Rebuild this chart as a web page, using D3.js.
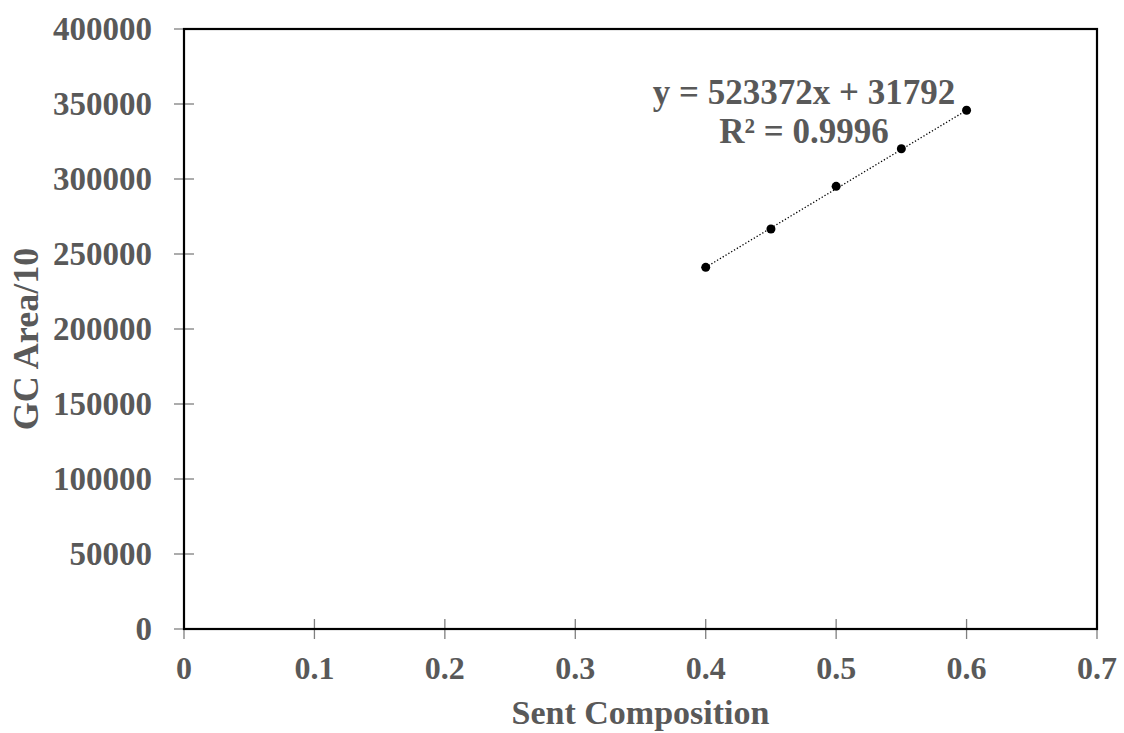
<!DOCTYPE html>
<html>
<head>
<meta charset="utf-8">
<script src="https://cdn.jsdelivr.net/npm/d3@7"></script>
<style>
  body { margin: 0; background: #fff; }
  text { font-family: "Liberation Serif", "Times New Roman", serif; font-weight: bold; fill: #595959; }
</style>
</head>
<body>
<svg width="1124" height="733"></svg>
<script>
// data
var composition = [0.4, 0.45, 0.5, 0.55, 0.6];
var gcArea = [241100, 266700, 295100, 320200, 345800];
var xTicks = [0, 0.1, 0.2, 0.3, 0.4, 0.5, 0.6, 0.7];
var yTicks = [0, 50000, 100000, 150000, 200000, 250000, 300000, 350000, 400000];
var fitSlope = 523372, fitIntercept = 31792;
var fitLabels = ["y = 523372x + 31792", "R\u00b2 = 0.9996"];

var svg = d3.select("svg");
var pLeft = 184, pRight = 1097, pTop = 29, pBottom = 629;

var x = d3.scaleLinear().domain([0, 0.7]).range([pLeft, pRight]);
var y = d3.scaleLinear().domain([0, 400000]).range([pBottom, pTop]);

// tick marks (cross the axis)
svg.append("g").selectAll("line")
    .data(yTicks)
  .enter().append("line")
    .attr("x1", pLeft - 10).attr("x2", pLeft + 10)
    .attr("y1", function(d) { return y(d); })
    .attr("y2", function(d) { return y(d); })
    .attr("stroke", "#7f7f7f").attr("stroke-width", 1.3);
svg.append("g").selectAll("line")
    .data(xTicks)
  .enter().append("line")
    .attr("x1", function(d) { return x(d); })
    .attr("x2", function(d) { return x(d); })
    .attr("y1", pBottom - 10).attr("y2", pBottom + 10)
    .attr("stroke", "#7f7f7f").attr("stroke-width", 1.3);

// frame
svg.append("rect")
    .attr("x", pLeft).attr("y", pTop)
    .attr("width", pRight - pLeft).attr("height", pBottom - pTop)
    .attr("fill", "none").attr("stroke", "#000").attr("stroke-width", 2.2);

// tick labels
svg.append("g").selectAll("text")
    .data(yTicks)
  .enter().append("text")
    .attr("x", pLeft - 32)
    .attr("y", function(d) { return y(d) + 10.5; })
    .attr("text-anchor", "end")
    .style("font-size", "33px")
    .text(function(d) { return d; });
svg.append("g").selectAll("text")
    .data(xTicks)
  .enter().append("text")
    .attr("x", function(d) { return x(d); })
    .attr("y", pBottom + 50)
    .attr("text-anchor", "middle")
    .style("font-size", "32px")
    .text(function(d) { return d; });

// axis titles
svg.append("text")
    .attr("x", (pLeft + pRight) / 2).attr("y", 724)
    .attr("text-anchor", "middle")
    .style("font-size", "34px")
    .text("Sent Composition");
svg.append("text")
    .attr("transform", "translate(38," + 339 + ") rotate(-90)")
    .attr("text-anchor", "middle")
    .style("font-size", "36px")
    .text("GC Area/10");

// trendline
var x0 = d3.min(composition), x1 = d3.max(composition);
svg.append("line")
    .attr("x1", x(x0)).attr("y1", y(fitSlope * x0 + fitIntercept))
    .attr("x2", x(x1)).attr("y2", y(fitSlope * x1 + fitIntercept))
    .attr("stroke", "#000").attr("stroke-width", 1.3)
    .attr("stroke-dasharray", "1.3,2");

// points
svg.append("g").selectAll("circle")
    .data(composition)
  .enter().append("circle")
    .attr("cx", function(d) { return x(d); })
    .attr("cy", function(d, i) { return y(gcArea[i]); })
    .attr("r", 4.5)
    .attr("fill", "#000");

// equation
svg.append("g").selectAll("text")
    .data(fitLabels)
  .enter().append("text")
    .attr("x", 804)
    .attr("y", function(d, i) { return 104 + i * 39; })
    .attr("text-anchor", "middle")
    .style("font-size", "35px")
    .text(function(d) { return d; });
</script>
</body>
</html>
